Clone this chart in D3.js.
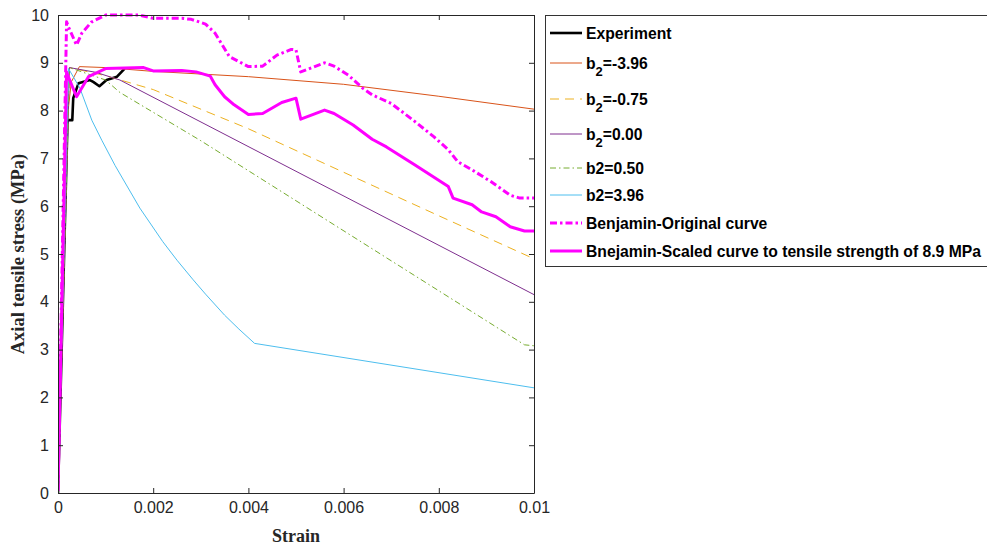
<!DOCTYPE html>
<html><head><meta charset="utf-8">
<script src="https://cdn.jsdelivr.net/npm/d3@7"></script>
<style>body{margin:0;background:#fff;}svg{display:block;}</style>
</head><body>
<svg id="c" width="987" height="545"></svg>
<script>
// ---- data ----
const xTicks = [0, 0.002, 0.004, 0.006, 0.008, 0.01];
const xTickLabels = ["0", "0.002", "0.004", "0.006", "0.008", "0.01"];
const yTicks = [0,1,2,3,4,5,6,7,8,9,10];
const yTickLabels = ["0","1","2","3","4","5","6","7","8","9","10"];

const experiment = [[0,0],[0.0002,7.8],[0.0003,7.8],[0.00032,8.26],[0.00043,8.57],[0.00067,8.64],[0.00074,8.6],[0.00087,8.51],[0.00102,8.64],[0.00124,8.71],[0.0014,8.88]];
const b2m396 = [[0,0],[0.00019,7.8],[0.00028,8.6],[0.00045,8.92],[0.001,8.9],[0.002,8.82],[0.004,8.71],[0.006,8.55],[0.008,8.3],[0.01,8.03]];
const b2m075 = [[0,0],[0.00024,8.9],[0.001,8.73],[0.002,8.44],[0.004,7.62],[0.006,6.71],[0.008,5.8],[0.01,4.9]];
const b2z000 = [[0,0],[0.00024,8.9],[0.0008,8.8],[0.0013,8.64],[0.01,4.15]];
const b2p050 = [[0,0],[0.00024,8.9],[0.001,8.64],[0.0013,8.38],[0.003,7.37],[0.0098,3.1],[0.01,3.08]];
const b2p396 = [[0,0],[0.00022,8.88],[0.00046,8.47],[0.00071,7.8],[0.00092,7.38],[0.0012,6.85],[0.00172,5.96],[0.0022,5.26],[0.0025,4.87],[0.00284,4.46],[0.0031,4.16],[0.0035,3.72],[0.0038,3.43],[0.00413,3.13],[0.01,2.2]];
const benjaminOriginal = [[0,0.05],[0.00018,9.86],[0.00022,9.75],[0.00039,9.37],[0.0005,9.62],[0.0007,9.85],[0.001,10.0],[0.0017,10.0],[0.002,9.93],[0.0026,9.93],[0.0028,9.91],[0.0031,9.81],[0.0033,9.62],[0.0036,9.13],[0.004,8.92],[0.0043,8.93],[0.0046,9.16],[0.0049,9.28],[0.005,9.27],[0.0051,8.81],[0.0056,9.0],[0.0058,8.93],[0.0061,8.74],[0.0064,8.47],[0.0066,8.33],[0.007,8.15],[0.0075,7.77],[0.0079,7.45],[0.0082,7.18],[0.0084,6.93],[0.0087,6.76],[0.0091,6.51],[0.0095,6.23],[0.0097,6.17],[0.01,6.17]];
const benjaminScaled = [[0,0.05],[0.00018,8.81],[0.00022,8.7],[0.00039,8.29],[0.00064,8.71],[0.001,8.88],[0.0018,8.9],[0.002,8.83],[0.0026,8.84],[0.0029,8.81],[0.0032,8.72],[0.0033,8.54],[0.0035,8.29],[0.0037,8.12],[0.004,7.92],[0.0043,7.94],[0.0047,8.17],[0.005,8.26],[0.0051,7.82],[0.0056,8.01],[0.0058,7.94],[0.0062,7.7],[0.0066,7.4],[0.0069,7.24],[0.0075,6.86],[0.0082,6.41],[0.0083,6.17],[0.0087,6.03],[0.0089,5.88],[0.0092,5.78],[0.0095,5.57],[0.0098,5.48],[0.01,5.48]];

const seriesNames = ["Experiment","b2=-3.96","b2=-0.75","b2=0.00","b2=0.50","b2=3.96","Benjamin-Original curve","Bnejamin-Scaled curve to tensile strength of 8.9 MPa"];
const seriesData = [experiment,b2m396,b2m075,b2z000,b2p050,b2p396,benjaminOriginal,benjaminScaled];
const seriesColors = ["#000000","#D95319","#EDB120","#7E2F8E","#77AC30","#4DBEEE","#FF00FF","#FF00FF"];
const seriesWidths = [2.6,1,1,1,1,1,3,3];
const seriesDash = [null,null,"9,6",null,"6,3,1.5,3",null,"7,3,2.5,3",null];
const seriesSub = [false,true,true,true,false,false,false,false];

// ---- layout ----
const L = 58, R = 534, T = 15, B = 493;
const svg = d3.select("#c");
const x = d3.scaleLinear().domain([0,0.01]).range([L,R]);
const y = d3.scaleLinear().domain([0,10]).range([B,T]);
const axisColor = "#262626";
const tickFont = "Liberation Sans, Arial, sans-serif";

// lines
const line = d3.line().x(d=>x(d[0])).y(d=>y(d[1]));
svg.append("clipPath").attr("id","clip").append("rect").attr("x",L).attr("y",T-2).attr("width",R-L).attr("height",B-T+2);
const g = svg.append("g").attr("clip-path","url(#clip)");
seriesData.forEach((d,i)=>{
  g.append("path").datum(d).attr("d",line).attr("fill","none")
   .attr("stroke",seriesColors[i]).attr("stroke-width",seriesWidths[i])
   .attr("stroke-dasharray",seriesDash[i]).attr("stroke-linejoin","round");
});

// axes
function styleAxis(sel){
  sel.selectAll("path").attr("stroke",axisColor);
  sel.selectAll("line").attr("stroke",axisColor);
  sel.selectAll("text").attr("fill",axisColor).attr("font-family",tickFont).attr("font-size","16px");
}
const xb = svg.append("g").attr("transform",`translate(0,${B})`)
  .call(d3.axisBottom(x).tickValues(xTicks).tickFormat((d,i)=>xTickLabels[i]).tickSizeInner(-5).tickSizeOuter(0).tickPadding(9));
styleAxis(xb);
const xt = svg.append("g").attr("transform",`translate(0,${T})`)
  .call(d3.axisTop(x).tickValues(xTicks).tickFormat("").tickSizeInner(-5).tickSizeOuter(0));
styleAxis(xt);
const yl = svg.append("g").attr("transform",`translate(${L},0)`)
  .call(d3.axisLeft(y).tickValues(yTicks).tickFormat((d,i)=>yTickLabels[i]).tickSizeInner(-5).tickSizeOuter(0).tickPadding(9));
styleAxis(yl);
const yr = svg.append("g").attr("transform",`translate(${R},0)`)
  .call(d3.axisRight(y).tickValues(yTicks).tickFormat("").tickSizeInner(-5).tickSizeOuter(0));
styleAxis(yr);

// axis labels
svg.append("text").attr("x",(L+R)/2).attr("y",542).attr("text-anchor","middle")
  .attr("font-family","Liberation Serif, serif").attr("font-weight","bold").attr("font-size","18px").attr("fill",axisColor).text("Strain");
svg.append("text").attr("transform",`translate(24,${(T+B)/2}) rotate(-90)`).attr("text-anchor","middle")
  .attr("font-family","Liberation Serif, serif").attr("font-weight","bold").attr("font-size","18.5px").attr("fill",axisColor).text("Axial tensile stress (MPa)");

// legend
const legY = [33,63,99,134,168,195,223,251];
const lg = svg.append("g");
lg.append("rect").attr("x",545.5).attr("y",15.5).attr("width",460).attr("height",251).attr("fill","#fff").attr("stroke","#333").attr("stroke-width",1);
seriesNames.forEach((nm,i)=>{
  const yy = legY[i];
  lg.append("line").attr("x1",550).attr("x2",582).attr("y1",yy).attr("y2",yy)
    .attr("stroke",seriesColors[i]).attr("stroke-width",seriesWidths[i])
    .attr("stroke-dasharray",seriesDash[i]);
  const t = lg.append("text").attr("x",586).attr("y",yy+5.5)
    .attr("font-family",tickFont).attr("font-weight","bold").attr("font-size","15.7px").attr("fill","#000");
  if(seriesSub[i]){
    t.append("tspan").text("b");
    t.append("tspan").attr("dy",7).attr("font-size","13px").text("2");
    t.append("tspan").attr("dy",-7).text(nm.slice(2));
  } else {
    t.text(nm);
  }
});
</script>
</body></html>
